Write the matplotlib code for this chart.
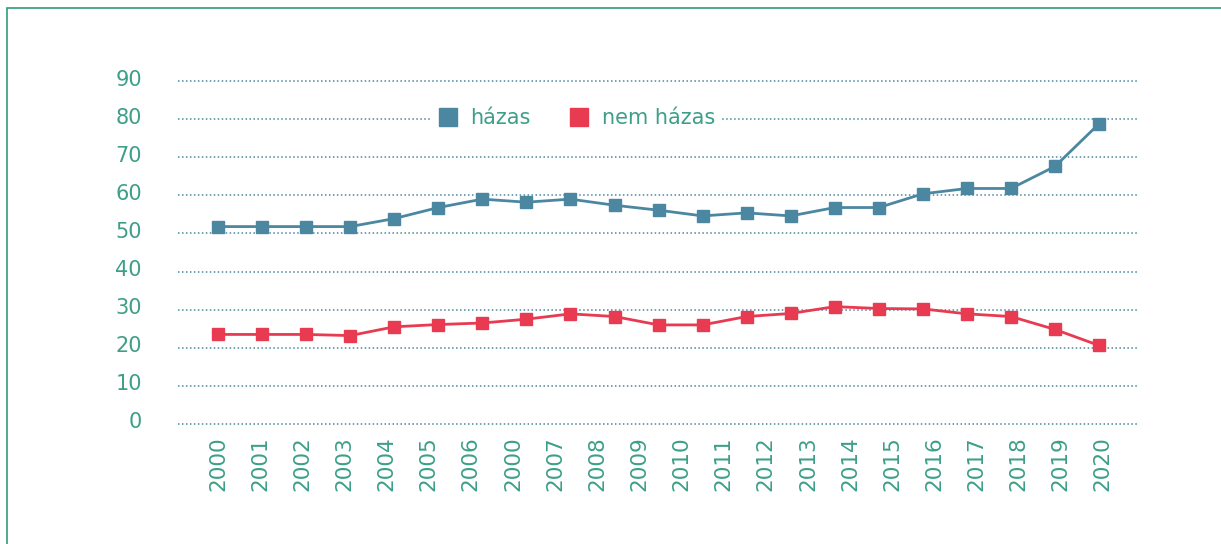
import numpy as np
import matplotlib
matplotlib.use("Agg")
from matplotlib import pyplot as plt
from matplotlib.lines import Line2D
from matplotlib.patches import Rectangle
from matplotlib.transforms import ScaledTranslation

# data
hazas     = [51.8, 51.8, 51.8, 51.8, 53.9, 56.8, 59.0, 58.2, 59.0, 57.4, 56.1,
             54.6, 55.4, 54.6, 56.8, 56.8, 60.4, 61.8, 61.8, 67.6, 78.8]
nem_hazas = [23.5, 23.5, 23.5, 23.2, 25.5, 26.1, 26.5, 27.5, 28.9, 28.2, 26.0,
             26.0, 28.2, 29.0, 30.8, 30.3, 30.2, 28.9, 28.2, 24.8, 20.6]
year_labels = ["2000", "2001", "2002", "2003", "2004", "2005", "2006", "2000",
               "2007", "2008", "2009", "2010", "2011", "2012", "2013", "2014",
               "2015", "2016", "2017", "2018", "2019", "2020"]
y_ticks = [0, 10, 20, 30, 40, 50, 60, 70, 80, 90]

BLUE  = "#4b87a1"
RED   = "#e83a50"
GREEN = "#3d9f88"
FRAME = "#2f9c7c"

fig = plt.figure(figsize=(12.21, 5.44), dpi=100)
fig.patches.append(Rectangle((7/1221, -0.1), 1.2, 1 - 8/544 + 0.1,
                             transform=fig.transFigure, fill=False,
                             edgecolor=FRAME, linewidth=1.2))

ax = fig.add_axes([178/1221, 1 - 424/544, 959/1221, 343/544])
x = np.arange(len(hazas))
ax.plot(x, hazas, color=BLUE, lw=2.0, marker="s", ms=8, zorder=3)
ax.plot(x, nem_hazas, color=RED, lw=2.0, marker="s", ms=8, zorder=3)
ax.set_xlim(-0.908, 20.86)
ax.set_ylim(0, 90)
ax.set_yticks(y_ticks)
ax.set_yticklabels([str(v) for v in y_ticks])
ax.tick_params(axis="y", length=0, pad=26, labelsize=15, labelcolor=GREEN)
# labels sit a few pixels above their gridline in the original
lift = ScaledTranslation(0, 0.035, fig.dpi_scale_trans)
for lab in ax.get_yticklabels():
    lab.set_transform(lab.get_transform() + lift)
ax.set_xticks([])
for s in ax.spines.values():
    s.set_visible(False)
for v in y_ticks:
    ax.axhline(v, color=BLUE, lw=1.1, ls=(0, (1, 1.6)), zorder=1, clip_on=False)

# category labels sit on their own scale, as in the original
ax2 = ax.twiny()
ax2.set_xlim(-0.949, 21.81)
ax2.set_xticks(np.arange(len(year_labels)))
ax2.set_xticklabels(year_labels, rotation=90)
ax2.xaxis.set_ticks_position("bottom")
ax2.xaxis.set_label_position("bottom")
ax2.tick_params(axis="x", length=0, pad=9, labelsize=15.5, labelcolor=GREEN)
for s in ax2.spines.values():
    s.set_visible(False)

handles = [Line2D([], [], color=BLUE, marker="s", ls="none", ms=13),
           Line2D([], [], color=RED, marker="s", ls="none", ms=13)]
leg = ax.legend(handles, ["házas", "nem házas"], loc="center",
                bbox_to_anchor=(0.415, 0.892), ncol=2, frameon=True,
                fontsize=15, labelcolor=GREEN, handlelength=1.0,
                handletextpad=0.6, columnspacing=1.8, borderpad=0.3,
                borderaxespad=0, handleheight=0.7)
leg.get_frame().set_facecolor("white")
leg.get_frame().set_edgecolor("none")
leg.get_frame().set_alpha(1)
leg.set_zorder(5)

fig.savefig("out.png", dpi=100)
